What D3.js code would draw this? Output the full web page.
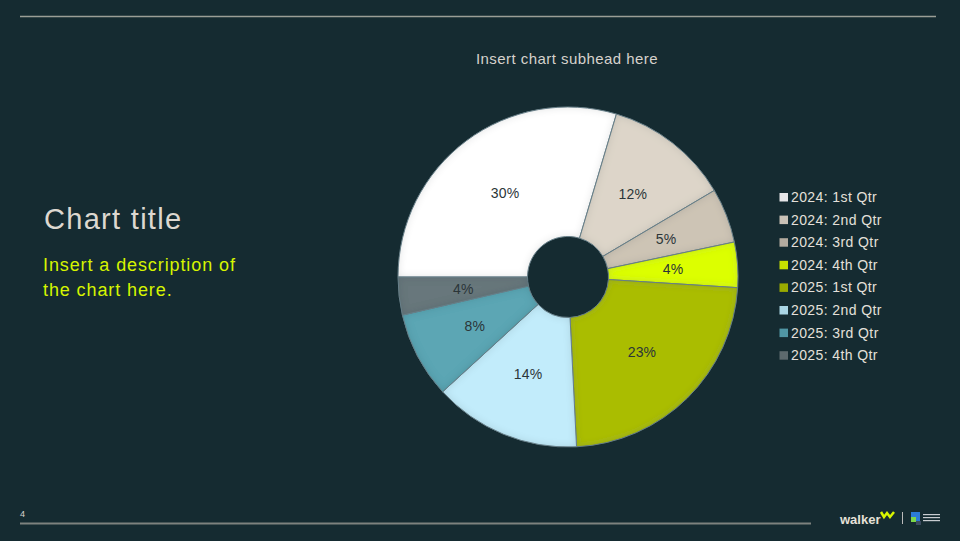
<!DOCTYPE html>
<html><head><meta charset="utf-8">
<script src="https://cdn.jsdelivr.net/npm/d3@7"></script>
<style>
html,body{margin:0;padding:0;background:#152b31;}
svg{display:block;font-family:"Liberation Sans",Arial,sans-serif;}
</style></head>
<body>
<svg id="chart" width="960" height="541"></svg>
<script>
const categories = ["2024: 1st Qtr","2024: 2nd Qtr","2024: 3rd Qtr","2024: 4th Qtr","2025: 1st Qtr","2025: 2nd Qtr","2025: 3rd Qtr","2025: 4th Qtr"];
const values = [29.6, 11.9, 5.2, 4.3, 23.2, 14.0, 8.2, 3.6];
const colors = ["#ffffff","#ddd5c9","#cdc4b5","#dcff00","#aabd00","#c2ecfb","#5ba6b4","#67777b"];
const legendColors = ["#e6e6e8","#c9c1b6","#b3ab9f","#c6e000","#99aa00","#a9d5e4","#5096a4","#5d6a6e"];
const title = "Chart title";
const description = ["Insert a description of","the chart here."];
const subhead = "Insert chart subhead here";

const svg = d3.select("#chart");
svg.append("rect").attr("width",960).attr("height",541).attr("fill","#152b31");

const defs = svg.append("defs");
const f = defs.append("filter").attr("id","inner").attr("x","-10%").attr("y","-10%").attr("width","120%").attr("height","120%");
f.append("feFlood").attr("flood-color","#203840").attr("flood-opacity",0.3).attr("result","flood");
f.append("feComposite").attr("in","flood").attr("in2","SourceAlpha").attr("operator","out").attr("result","outside");
f.append("feGaussianBlur").attr("in","outside").attr("stdDeviation",4).attr("result","blur");
f.append("feComposite").attr("in","blur").attr("in2","SourceAlpha").attr("operator","in").attr("result","shadow");
const m = f.append("feMerge");
m.append("feMergeNode").attr("in","SourceGraphic");
m.append("feMergeNode").attr("in","shadow");

// rules
svg.append("line").attr("x1",20).attr("x2",936).attr("y1",16.5).attr("y2",16.5).attr("stroke","#9a9e96").attr("stroke-width",1.5);
svg.append("line").attr("x1",20).attr("x2",811).attr("y1",523.5).attr("y2",523.5).attr("stroke","#7d827e").attr("stroke-width",2);
svg.append("text").attr("x",20).attr("y",517).attr("font-size",9).attr("fill","#d8d4ce").text("4");

// title & description
svg.append("text").attr("x",44).attr("y",229).attr("font-size",29).attr("letter-spacing",1.3).attr("fill","#ddd8d0").text(title);
svg.append("text").attr("x",43).attr("y",271).attr("font-size",18).attr("letter-spacing",0.9).attr("fill","#d6f500")
  .selectAll("tspan").data(description).join("tspan").attr("x",43).attr("dy",(d,i)=>i?25:0).text(d=>d);

// subhead
svg.append("text").attr("x",567).attr("y",64).attr("text-anchor","middle").attr("font-size",15).attr("letter-spacing",0.45).attr("fill","#d6d2cc").text(subhead);

// pie
const cx = 568, cy = 277, R = 170, r0 = 40.5;
const pie = d3.pie().sort(null).value(d=>d).startAngle(-Math.PI/2).endAngle(3*Math.PI/2);
const arcs = pie(values);
const arc = d3.arc().innerRadius(r0).outerRadius(R);
const g = svg.append("g").attr("transform",`translate(${cx},${cy})`);
g.selectAll("path").data(arcs).join("path")
  .attr("d",arc).attr("fill",(d,i)=>colors[i])
  .attr("filter","url(#inner)")
  .attr("stroke","#6f8790").attr("stroke-width",1);
const total = d3.sum(values);
g.selectAll("text.lbl").data(arcs).join("text").attr("class","lbl")
  .attr("transform",d=>`translate(${arc.centroid(d)})`)
  .attr("text-anchor","middle").attr("dy","0.35em")
  .attr("font-size",14).attr("letter-spacing",0.2).attr("fill","#2b3538")
  .text(d=>Math.round(d.value/total*100)+"%");

// legend
const lg = svg.append("g").attr("transform","translate(779,197)");
const row = lg.selectAll("g").data(categories).join("g").attr("transform",(d,i)=>`translate(0,${i*22.6})`);
row.append("rect").attr("x",0.5).attr("y",-4).attr("width",8.5).attr("height",8.5).attr("fill",(d,i)=>legendColors[i]);
row.append("text").attr("x",12).attr("y",0).attr("dy","0.36em").attr("font-size",14).attr("letter-spacing",0.4).attr("fill","#e4e0da").text(d=>d);

// logo
const logo = svg.append("g");
logo.append("text").attr("x",840).attr("y",524).attr("font-size",13).attr("font-weight","bold").attr("fill","#e6e1d8").text("walker");
logo.append("path").attr("d","M881,512 L884,517 L887,513 L890,517 L894,512").attr("fill","none").attr("stroke","#d8f500").attr("stroke-width",2.5);
logo.append("line").attr("x1",902.5).attr("x2",902.5).attr("y1",512).attr("y2",524).attr("stroke","#bbb").attr("stroke-width",1);
logo.append("rect").attr("x",911).attr("y",512).attr("width",9).attr("height",10).attr("fill","#2b7bd6");
logo.append("rect").attr("x",911).attr("y",517).attr("width",5).attr("height",5).attr("fill","#7bd64a");
logo.append("rect").attr("x",916).attr("y",521).attr("width",5).attr("height",4).attr("fill","#3b4a5e");
logo.selectAll("rect.t").data([514,517,520]).join("rect").attr("class","t").attr("x",923).attr("y",d=>d).attr("width",17).attr("height",1.2).attr("fill","#c8ccd0");
</script>
</body></html>
